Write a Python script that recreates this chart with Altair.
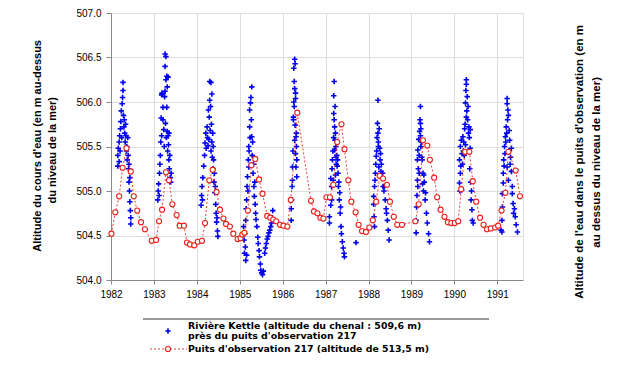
import altair as alt
import pandas as pd

years = [1982, 1983, 1984, 1985, 1986, 1987, 1988, 1989, 1990, 1991]
left_ticks = [504.0, 504.5, 505.0, 505.5, 506.0, 506.5, 507.0]
right_ticks = [509.5, 510.0, 510.5, 511.0, 511.5, 512.0, 512.5]

# Observation well 217 (right axis), (decimal year, altitude m)
well = [
    (1982.01, 510.02), (1982.10, 510.26), (1982.19, 510.44), (1982.27, 510.76), (1982.36, 510.98),
    (1982.46, 510.72), (1982.53, 510.44), (1982.61, 510.28), (1982.70, 510.15), (1982.79, 510.07),
    (1982.95, 509.94), (1983.05, 509.95), (1983.12, 510.16), (1983.19, 510.29), (1983.28, 510.71),
    (1983.35, 510.62), (1983.43, 510.35), (1983.53, 510.23), (1983.60, 510.11), (1983.70, 510.11),
    (1983.77, 509.92), (1983.84, 509.90), (1983.94, 509.89), (1984.02, 509.93), (1984.12, 509.94),
    (1984.19, 510.14), (1984.29, 510.62), (1984.37, 510.74), (1984.46, 510.49), (1984.54, 510.29),
    (1984.62, 510.19), (1984.68, 510.13), (1984.77, 510.10), (1984.85, 510.02), (1984.95, 509.96),
    (1985.02, 509.97), (1985.06, 510.01), (1985.11, 510.03), (1985.19, 510.28), (1985.27, 510.79),
    (1985.36, 510.86), (1985.45, 510.63), (1985.53, 510.47), (1985.64, 510.22), (1985.71, 510.20),
    (1985.78, 510.18), (1985.85, 510.16), (1985.94, 510.12), (1986.02, 510.11), (1986.11, 510.10),
    (1986.19, 510.40), (1986.34, 511.38), (1986.66, 510.39), (1986.73, 510.27), (1986.81, 510.25),
    (1986.88, 510.20), (1986.95, 510.19), (1987.02, 510.43), (1987.10, 510.43), (1987.18, 510.57),
    (1987.27, 511.05), (1987.37, 511.25), (1987.44, 510.97), (1987.53, 510.62), (1987.60, 510.38),
    (1987.70, 510.26), (1987.77, 510.12), (1987.85, 510.05), (1987.94, 510.04), (1988.02, 510.09),
    (1988.10, 510.17), (1988.18, 510.38), (1988.26, 510.67), (1988.34, 510.64), (1988.43, 510.57),
    (1988.50, 510.38), (1988.59, 510.21), (1988.67, 510.12), (1988.78, 510.12), (1989.09, 510.16),
    (1989.17, 510.35), (1989.27, 511.07), (1989.37, 511.01), (1989.43, 510.85), (1989.53, 510.65),
    (1989.60, 510.43), (1989.68, 510.29), (1989.77, 510.21), (1989.85, 510.15), (1989.93, 510.14),
    (1990.01, 510.14), (1990.09, 510.16), (1990.16, 510.52), (1990.25, 510.94), (1990.35, 510.94),
    (1990.43, 510.61), (1990.51, 510.38), (1990.60, 510.20), (1990.68, 510.12), (1990.76, 510.07),
    (1990.85, 510.08), (1990.95, 510.09), (1991.02, 510.11), (1991.10, 510.28), (1991.19, 510.48),
    (1991.26, 510.94), (1991.43, 510.73), (1991.53, 510.44),
]

# Kettle River near well 217 (left axis), (decimal year, altitude m)
river_1982 = [
    (1982.16, 505.28), (1982.16, 505.40), (1982.17, 505.48), (1982.19, 505.33), (1982.19, 505.55),
    (1982.20, 505.62), (1982.21, 505.45), (1982.22, 505.70), (1982.23, 505.78), (1982.24, 505.90),
    (1982.25, 505.60), (1982.26, 505.98), (1982.27, 506.05), (1982.28, 506.22), (1982.28, 506.13),
    (1982.29, 505.85), (1982.30, 505.72), (1982.31, 505.80), (1982.32, 505.65), (1982.33, 505.55),
    (1982.34, 505.75), (1982.35, 505.62), (1982.36, 505.45), (1982.37, 505.50), (1982.38, 505.35),
    (1982.39, 505.60), (1982.40, 505.40), (1982.41, 505.25), (1982.42, 505.10), (1982.42, 505.30),
    (1982.43, 505.00), (1982.44, 504.88), (1982.44, 505.15), (1982.45, 504.78), (1982.46, 504.70),
    (1982.46, 504.63),
]
river_1983 = [
    (1983.09, 504.90), (1983.10, 505.00), (1983.11, 505.08), (1983.12, 504.95), (1983.13, 505.20),
    (1983.14, 505.30), (1983.15, 505.40), (1983.16, 505.55), (1983.17, 505.82), (1983.18, 505.62),
    (1983.18, 506.08), (1983.19, 506.10), (1983.21, 505.94), (1983.21, 505.80), (1983.23, 505.69),
    (1983.24, 505.50), (1983.25, 506.06), (1983.26, 506.12), (1983.26, 506.40), (1983.26, 506.54),
    (1983.27, 505.76), (1983.28, 506.25), (1983.28, 506.51), (1983.29, 505.60), (1983.30, 506.29),
    (1983.30, 505.94), (1983.31, 506.17), (1983.31, 505.67), (1983.32, 505.45), (1983.33, 505.62),
    (1983.33, 506.28), (1983.34, 505.52), (1983.35, 505.65), (1983.35, 505.35), (1983.36, 505.25),
    (1983.37, 505.40), (1983.38, 505.15), (1983.39, 505.10), (1983.40, 505.20),
]
river_1984 = [
    (1984.10, 504.84), (1984.11, 504.95), (1984.12, 505.05), (1984.13, 504.90), (1984.14, 505.15),
    (1984.16, 505.28), (1984.18, 505.40), (1984.19, 505.54), (1984.21, 505.65), (1984.22, 505.48),
    (1984.24, 505.72), (1984.25, 505.60), (1984.26, 505.51), (1984.27, 505.91), (1984.28, 505.58),
    (1984.29, 505.83), (1984.30, 506.23), (1984.30, 506.02), (1984.31, 505.68), (1984.32, 505.95),
    (1984.33, 505.45), (1984.33, 506.22), (1984.34, 505.75), (1984.35, 506.09), (1984.35, 505.55),
    (1984.36, 505.38), (1984.37, 505.65), (1984.38, 505.50), (1984.38, 505.25), (1984.39, 505.35),
    (1984.40, 505.10), (1984.41, 505.20), (1984.42, 504.98), (1984.43, 505.05), (1984.44, 504.85),
    (1984.45, 504.75), (1984.46, 504.65), (1984.47, 504.70), (1984.48, 504.55), (1984.49, 504.49),
]
river_1985 = [
    (1985.09, 504.60), (1985.10, 504.45), (1985.11, 504.30), (1985.12, 504.52), (1985.13, 504.37),
    (1985.14, 504.22), (1985.14, 504.67), (1985.15, 504.80), (1985.16, 504.90), (1985.16, 504.28),
    (1985.17, 505.05), (1985.18, 505.16), (1985.19, 505.00), (1985.20, 505.35), (1985.21, 505.27),
    (1985.21, 505.50), (1985.22, 505.45), (1985.23, 505.72), (1985.23, 505.91), (1985.24, 505.60),
    (1985.25, 505.99), (1985.26, 506.05), (1985.27, 505.80), (1985.28, 506.17), (1985.28, 505.61),
    (1985.29, 505.40), (1985.30, 505.55), (1985.31, 505.20), (1985.32, 505.30), (1985.33, 505.05),
    (1985.34, 504.94), (1985.35, 505.10), (1985.36, 504.85), (1985.37, 504.75), (1985.38, 504.68),
    (1985.40, 504.60), (1985.42, 504.48), (1985.43, 504.41), (1985.45, 504.33), (1985.46, 504.26),
    (1985.48, 504.18), (1985.49, 504.11), (1985.51, 504.08), (1985.53, 504.06), (1985.55, 504.10),
    (1985.58, 504.30), (1985.60, 504.36), (1985.62, 504.41), (1985.64, 504.46), (1985.66, 504.49),
    (1985.68, 504.53), (1985.70, 504.56), (1985.72, 504.60), (1985.74, 504.64), (1985.76, 504.70),
    (1985.77, 504.78),
]
river_1986 = [
    (1986.20, 504.67), (1986.20, 504.80), (1986.21, 504.90), (1986.22, 505.05), (1986.23, 505.12),
    (1986.23, 505.27), (1986.24, 505.45), (1986.25, 505.80), (1986.25, 505.83), (1986.26, 506.38),
    (1986.26, 506.00), (1986.27, 505.95), (1986.27, 506.23), (1986.28, 506.48), (1986.28, 506.15),
    (1986.28, 505.57), (1986.29, 505.74), (1986.29, 506.43), (1986.30, 506.04), (1986.30, 506.10),
    (1986.30, 505.42), (1986.31, 505.61), (1986.31, 505.27), (1986.32, 505.65), (1986.32, 505.50),
    (1986.33, 505.16), (1986.33, 505.35),
]
river_1987 = [
    (1987.09, 504.64), (1987.09, 504.71), (1987.12, 504.84), (1987.12, 505.14), (1987.14, 504.90),
    (1987.14, 505.05), (1987.15, 505.25), (1987.16, 505.35), (1987.17, 505.45), (1987.18, 505.12),
    (1987.19, 505.60), (1987.19, 505.87), (1987.19, 506.07), (1987.20, 506.23), (1987.20, 505.80),
    (1987.21, 505.72), (1987.21, 505.46), (1987.22, 505.95), (1987.22, 505.57), (1987.23, 505.65),
    (1987.23, 505.18), (1987.24, 505.50), (1987.24, 505.38), (1987.25, 505.30), (1987.26, 505.40),
    (1987.27, 505.28), (1987.28, 505.35), (1987.29, 505.20), (1987.30, 505.05), (1987.31, 505.10),
    (1987.32, 504.90), (1987.33, 504.98), (1987.34, 504.75), (1987.35, 504.82), (1987.36, 504.60),
    (1987.37, 504.52), (1987.39, 504.43), (1987.41, 504.36), (1987.43, 504.30), (1987.44, 504.26),
    (1987.71, 504.42),
]
river_1988 = [
    (1988.12, 504.94), (1988.12, 504.85), (1988.13, 504.71), (1988.14, 504.60), (1988.14, 505.05),
    (1988.15, 505.12), (1988.16, 505.20), (1988.17, 505.30), (1988.18, 505.39), (1988.19, 505.45),
    (1988.20, 505.60), (1988.21, 505.76), (1988.22, 505.65), (1988.22, 506.02), (1988.23, 505.50),
    (1988.23, 505.55), (1988.24, 505.27), (1988.25, 505.70), (1988.26, 505.48), (1988.27, 505.35),
    (1988.28, 505.42), (1988.29, 505.22), (1988.30, 505.30), (1988.31, 505.15), (1988.33, 505.20),
    (1988.34, 505.05), (1988.36, 505.00), (1988.37, 505.05), (1988.39, 504.90), (1988.41, 504.80),
    (1988.42, 504.75), (1988.44, 504.67), (1988.46, 504.56), (1988.48, 504.45),
]
river_1989 = [
    (1989.11, 504.53), (1989.11, 504.67), (1989.12, 504.82), (1989.13, 504.95), (1989.14, 505.12),
    (1989.14, 505.35), (1989.15, 505.05), (1989.15, 505.46), (1989.16, 505.25), (1989.17, 505.58),
    (1989.18, 505.20), (1989.18, 505.40), (1989.19, 505.67), (1989.20, 505.80), (1989.21, 505.95),
    (1989.21, 505.76), (1989.21, 505.62), (1989.22, 505.50), (1989.22, 505.70), (1989.23, 505.55),
    (1989.24, 505.38), (1989.25, 505.35), (1989.26, 505.08), (1989.27, 505.20), (1989.28, 505.00),
    (1989.29, 505.18), (1989.30, 505.10), (1989.32, 504.90), (1989.33, 504.98), (1989.35, 504.75),
    (1989.37, 504.64), (1989.40, 504.52), (1989.42, 504.43),
]
river_1990 = [
    (1990.12, 505.09), (1990.12, 505.35), (1990.13, 505.00), (1990.14, 505.20), (1990.14, 505.50),
    (1990.15, 505.28), (1990.16, 505.57), (1990.17, 505.01), (1990.18, 505.42), (1990.19, 505.30),
    (1990.20, 505.61), (1990.21, 505.45), (1990.22, 505.55), (1990.23, 505.40), (1990.24, 505.70),
    (1990.25, 505.75), (1990.26, 505.99), (1990.26, 505.52), (1990.27, 506.13), (1990.28, 506.25),
    (1990.28, 506.20), (1990.28, 505.83), (1990.29, 505.90), (1990.30, 506.06), (1990.31, 505.80),
    (1990.32, 505.95), (1990.33, 505.65), (1990.34, 505.72), (1990.35, 505.60), (1990.36, 505.25),
    (1990.37, 505.69), (1990.37, 505.48), (1990.38, 505.10), (1990.39, 504.90), (1990.40, 505.00),
    (1990.41, 504.79), (1990.42, 504.67), (1990.44, 504.64),
]
river_1991 = [
    (1991.09, 504.56), (1991.11, 504.54), (1991.11, 504.67), (1991.12, 504.82), (1991.12, 504.97),
    (1991.14, 505.09), (1991.14, 505.20), (1991.15, 505.35), (1991.16, 505.28), (1991.17, 505.50),
    (1991.18, 505.42), (1991.19, 505.61), (1991.20, 505.55), (1991.21, 505.72), (1991.22, 505.65),
    (1991.23, 506.04), (1991.23, 505.98), (1991.23, 505.27), (1991.24, 505.80), (1991.25, 505.91),
    (1991.26, 505.12), (1991.26, 505.85), (1991.27, 505.45), (1991.28, 505.68), (1991.29, 505.57),
    (1991.30, 505.30), (1991.31, 505.38), (1991.33, 505.48), (1991.33, 505.22), (1991.35, 505.05),
    (1991.35, 504.97), (1991.37, 504.86), (1991.38, 504.75), (1991.40, 504.80), (1991.42, 504.71),
    (1991.44, 504.62), (1991.47, 504.54),
]

left_title = ["Altitude du cours d'eau (en m au-dessus", "du niveau de la mer)"]
right_title = ["Altitude de l'eau dans le puits d'observation (en m", "au dessus du niveau de la mer)"]
legend_river = ["Rivière Kettle (altitude du chenal : 509,6 m)", "près du puits d'observation 217"]
legend_well = "Puits d'observation 217 (altitude de 513,5 m)"

BLUE = "#0000ee"
RED = "#e8201c"
CROSS = "M-1,0H1M0,-1V1"

river_rows = []
for lst in [river_1982, river_1983, river_1984, river_1985, river_1986,
            river_1987, river_1988, river_1989, river_1990, river_1991]:
    for t, v in lst:
        river_rows.append({"t": t, "v": v})
river_df = pd.DataFrame(river_rows)
well_df = pd.DataFrame([{"t": t, "v": v} for t, v in well])

W, H = 412, 267
x_scale = alt.Scale(domain=[1982, 1991.6], nice=False, zero=False)
x_axis = alt.Axis(values=years, format="d", title=None, tickSize=4, labelPadding=5,
                  labelFlush=False, labelOverlap=False)

river = alt.Chart(river_df).mark_point(
    shape=CROSS, size=30, strokeWidth=1.6, color=BLUE, filled=False, opacity=1
).encode(
    x=alt.X("t:Q", scale=x_scale, axis=x_axis),
    y=alt.Y("v:Q", scale=alt.Scale(domain=[504, 507], nice=False, zero=False),
            axis=alt.Axis(orient="left", values=left_ticks, format=".1f", title=None,
                          tickSize=5, labelPadding=5, labelFlush=False)),
)

well_line = alt.Chart(well_df).mark_line(
    color=RED, strokeWidth=1, strokeDash=[2, 2], opacity=0.85
).encode(
    x=alt.X("t:Q", scale=x_scale, axis=x_axis),
    y=alt.Y("v:Q", scale=alt.Scale(domain=[509.5, 512.5], nice=False, zero=False),
            axis=alt.Axis(orient="right", values=right_ticks, format=".1f", title=None,
                          tickSize=5, labelPadding=4, labelFlush=False)),
)
well_pts = alt.Chart(well_df).mark_point(
    shape="circle", size=26, strokeWidth=1.1, color=RED, fill="white", filled=False, opacity=1,
    fillOpacity=1
).encode(
    x=alt.X("t:Q", scale=x_scale),
    y=alt.Y("v:Q", scale=alt.Scale(domain=[509.5, 512.5], nice=False, zero=False), axis=None),
)

right_layer = alt.layer(well_line, well_pts)

src = alt.Chart(pd.DataFrame({"a": [0]}))

# axis titles (rotated to read upward; anchored at their upper end)
def title_line(text, x, y_top, size):
    return src.mark_text(angle=270, align="right", baseline="middle", font="Liberation Sans",
                         fontWeight="bold", fontSize=size, color="black").encode(
        x=alt.value(x), y=alt.value(y_top), text=alt.value(text))

lt1 = title_line(left_title[0], -73, 27, 11)
lt2 = title_line(left_title[1], -58, 84, 11)
rt1 = title_line(right_title[0], W + 57, 12, 11.5)
rt2 = title_line(right_title[1], W + 74, 64, 11.5)

# legend (drawn below the plot)
box_top = src.mark_rule(color="#9a9a9a", strokeWidth=2).encode(
    x=alt.value(32), x2=alt.value(378), y=alt.value(306))
box_bot = src.mark_rule(color="#9a9a9a", strokeWidth=2).encode(
    x=alt.value(32), x2=alt.value(378), y=alt.value(347))
leg_cross = src.mark_point(shape=CROSS, size=30, strokeWidth=1.6, color=BLUE,
                           filled=False, opacity=1).encode(
    x=alt.value(57), y=alt.value(318))
def leg_text(text, y):
    return src.mark_text(align="left", baseline="middle", font="DejaVu Sans",
                         fontWeight="bold", fontSize=9.4, color="black").encode(
        x=alt.value(77), y=alt.value(y), text=alt.value(text))
leg_txt1 = leg_text(legend_river[0], 313.3)
leg_txt2 = leg_text(legend_river[1], 323)
leg_line = src.mark_rule(color=RED, strokeWidth=1, strokeDash=[2, 2], opacity=0.85).encode(
    x=alt.value(39), x2=alt.value(76), y=alt.value(336))
leg_circ = src.mark_point(shape="circle", size=26, strokeWidth=1.1, color=RED, fill="white",
                          filled=False, opacity=1, fillOpacity=1).encode(
    x=alt.value(57), y=alt.value(336))
leg_txt3 = leg_text(legend_well, 336)

chart = alt.layer(
    river, right_layer, lt1, lt2, rt1, rt2,
    box_top, box_bot, leg_cross, leg_txt1, leg_txt2, leg_line, leg_circ, leg_txt3,
).resolve_scale(y="independent").properties(
    width=W, height=H,
    autosize=alt.AutoSizeParams(type="none"),
    padding={"left": 103, "top": 5, "right": 93, "bottom": 79},
).configure_view(
    stroke="#888888", strokeWidth=1
).configure_axis(
    labelFont="Liberation Sans", labelFontSize=11, labelColor="#222222",
    domainColor="#777777", tickColor="#555555", grid=False,
).configure(background="white")

chart.save("out.html", embed_options={"renderer": "svg", "actions": False})
